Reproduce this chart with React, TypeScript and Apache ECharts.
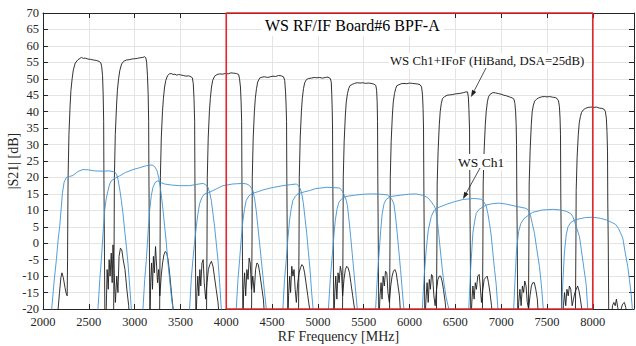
import React, { useEffect, useRef } from "react";
import * as echarts from "echarts";

// X axis / Y axis ranges and ticks
const xTicks = [2000, 2500, 3000, 3500, 4000, 4500, 5000, 5500, 6000, 6500, 7000, 7500, 8000];
const yTicks = [-20, -15, -10, -5, 0, 5, 10, 15, 20, 25, 30, 35, 40, 45, 50, 55, 60, 65, 70];
const xRange = [2000, 8450];
const yRange = [-20, 70];

// Red highlight box corners [MHz, dB]
const redBox = [[4000, -20], [4000, 70], [8000, 70], [8000, -20], [4000, -20]];

// WS Ch1 + IFoF (HiBand, DSA=25dB) — black traces, one per filter band
const hb1 = [[2150,-25],[2180,-15],[2195,-10.5],[2207,-9],[2222,-10.5],[2240,-13.5],[2255,-15.5],[2264,-16],[2268,-5],[2271,10],[2274,20],[2283,33],[2296,42],[2305,46.5],[2318,50],[2331,52.7],[2352,54.8],[2382,55.8],[2420,56.5],[2440,56.2],[2460,56.3],[2490,56],[2520,55.9],[2550,55.7],[2580,55.6],[2610,55.3],[2630,54.9],[2640,53.8],[2650,51],[2657,45],[2662,37],[2665,19.4],[2670,0],[2676,-25],[2690,-20],[2700,-8],[2712,-14],[2722,-5],[2732,-10],[2745,-3],[2755,-12],[2764,-0.5],[2775,-8],[2790,-18],[2805,-10],[2818,-15],[2830,-4],[2845,-1.5],[2860,-2],[2875,-5],[2895,-8],[2915,-14],[2935,-19],[2950,-25]];
const hb2 = [[2770,-25],[2776,0],[2779,20],[2789,33],[2803,42],[2812,46.5],[2825,50],[2838,52.5],[2858,54.5],[2880,55.3],[2910,55.7],[2940,55.8],[2970,56],[3000,56.1],[3030,56.2],[3060,56.4],[3090,56.5],[3110,56.7],[3122,56.4],[3131,55],[3140,51],[3148,45],[3153,37],[3156,20],[3161,0],[3167,-25],[3175,-12],[3185,-6],[3195,-14],[3205,-4],[3215,-9],[3228,-1],[3240,-7],[3250,-12],[3262,-8],[3275,-16],[3290,-10],[3305,-6],[3320,-3.5],[3335,-2.5],[3350,-3],[3365,-5],[3385,-10],[3405,-16],[3420,-20],[3435,-25]];
const hb3 = [[3272,-25],[3278,0],[3281,20],[3291,32],[3304,40],[3314,44],[3327,47.5],[3340,49.5],[3360,51],[3380,51.5],[3400,51.6],[3420,51.3],[3440,51.4],[3460,51.1],[3480,51.3],[3500,51.2],[3530,51],[3560,50.8],[3590,50.9],[3615,50.6],[3630,50.3],[3640,48.5],[3648,44],[3655,37],[3658,20],[3663,0],[3669,-25],[3680,-15],[3690,-10],[3700,-16],[3712,-8],[3722,-13],[3735,-6],[3748,-5],[3760,-12],[3775,-17],[3790,-12],[3805,-8],[3820,-6.5],[3838,-5.5],[3855,-7],[3870,-10],[3890,-14],[3910,-18],[3930,-25]];
const hb4 = [[3784,-25],[3790,0],[3793,20],[3803,32],[3816,40],[3826,44],[3839,47.5],[3852,49.5],[3873,50.8],[3900,51.3],[3930,51.5],[3960,51.4],[3990,51.6],[4020,51.5],[4050,51.8],[4080,51.7],[4110,51.6],[4135,51.3],[4145,50],[4155,47.5],[4162,43],[4168,37],[4171,20],[4176,0],[4182,-25],[4190,-14],[4200,-9],[4212,-16],[4225,-8],[4238,-11],[4250,-4.5],[4262,-6],[4275,-14],[4290,-10],[4305,-15],[4320,-8],[4335,-6],[4350,-6.5],[4365,-9],[4385,-13],[4405,-17],[4425,-25]];
const hb5 = [[4275,-25],[4281,0],[4284,20],[4294,32],[4307,40],[4317,44],[4330,47],[4343,49],[4364,50.2],[4390,50.5],[4420,50.6],[4450,50.4],[4480,50.6],[4510,50.8],[4540,50.7],[4570,51],[4600,50.9],[4625,50.6],[4638,49.5],[4647,46],[4653,42],[4658,37],[4661,20],[4666,0],[4672,-25],[4680,-16],[4692,-10],[4702,-15],[4715,-7],[4728,-10],[4740,-8],[4752,-14],[4765,-18],[4780,-12],[4795,-9],[4810,-7.5],[4825,-6.5],[4840,-7],[4855,-9],[4870,-12],[4890,-16],[4910,-20],[4925,-25]];
const hb6 = [[4788,-25],[4794,0],[4797,20],[4807,32],[4820,40],[4830,44],[4843,47],[4856,48.8],[4876,49.8],[4900,50.1],[4930,50.2],[4960,50.4],[4990,50.3],[5020,50.4],[5050,50.2],[5080,50.4],[5110,50.5],[5135,50.1],[5146,49],[5152,45],[5157,40],[5160,35],[5163,18],[5168,0],[5174,-25],[5185,-15],[5195,-10],[5207,-17],[5220,-9],[5232,-12],[5245,-7],[5258,-9],[5270,-16],[5285,-11],[5300,-8],[5315,-7],[5330,-7.5],[5345,-9],[5360,-12],[5380,-16],[5400,-20],[5420,-25]];
const hb7 = [[5268,-25],[5274,0],[5277,20],[5287,31],[5300,39],[5310,43],[5323,45.5],[5336,47],[5350,47.9],[5375,48.3],[5400,48.6],[5430,48.8],[5460,48.7],[5490,48.8],[5520,48.6],[5550,48.7],[5580,48.6],[5610,48.4],[5632,48],[5641,46.5],[5647,43],[5651,37],[5654,20],[5659,0],[5665,-25],[5678,-16],[5690,-12],[5700,-17],[5712,-10],[5725,-13],[5738,-8.5],[5752,-9],[5765,-15],[5780,-18],[5795,-13],[5810,-10],[5825,-8.5],[5840,-8],[5855,-9],[5870,-12],[5890,-16],[5910,-25]];
const hb8 = [[5781,-25],[5787,0],[5790,20],[5800,31],[5813,39],[5823,43],[5836,45.5],[5849,47],[5862,47.9],[5885,48.2],[5910,48.5],[5940,48.6],[5970,48.5],[6000,48.7],[6030,48.6],[6060,48.5],[6090,48.4],[6115,48.2],[6132,47.5],[6142,45],[6148,41],[6153,35],[6156,20],[6161,0],[6167,-25],[6180,-17],[6192,-12],[6204,-18],[6216,-11],[6228,-14],[6240,-9.5],[6252,-10],[6266,-16],[6280,-19],[6295,-14],[6310,-11],[6325,-10],[6340,-10],[6355,-11.5],[6370,-14],[6390,-18],[6410,-25]];
const hb9 = [[6293,-25],[6299,0],[6302,18],[6312,28],[6325,36],[6335,40],[6347,42.5],[6360,44],[6380,44.5],[6410,45],[6440,45.1],[6470,45.2],[6500,45.4],[6530,45.5],[6560,45.6],[6590,45.8],[6615,46],[6633,46],[6642,44.5],[6648,41],[6655,35],[6658,18],[6663,0],[6669,-25],[6680,-18],[6692,-13],[6705,-17],[6718,-12],[6730,-14],[6745,-10],[6760,-9.5],[6772,-13],[6785,-18],[6800,-14],[6815,-11],[6830,-10.5],[6848,-10],[6862,-12],[6878,-15],[6895,-19],[6910,-25]];
const hb10 = [[6795,-25],[6801,0],[6804,18],[6814,28],[6827,36],[6837,40],[6850,43],[6862,44.5],[6880,45.3],[6910,45.8],[6940,45.7],[6970,45.5],[7000,45.3],[7030,45],[7060,44.8],[7090,44.5],[7120,44.2],[7140,43.8],[7150,42.5],[7158,40],[7164,36],[7168,30],[7171,15],[7176,0],[7182,-25],[7192,-18],[7205,-14],[7218,-19],[7232,-13],[7245,-15],[7258,-11.5],[7272,-13],[7285,-18],[7300,-20],[7315,-16],[7330,-13],[7345,-12],[7362,-12],[7378,-14],[7395,-17],[7412,-25]];
const hb11 = [[7297,-25],[7303,0],[7306,18],[7316,28],[7329,36],[7339,40],[7352,42],[7366,43.2],[7386,43.8],[7410,44.2],[7440,44.5],[7470,44.6],[7500,44.5],[7530,44.6],[7560,44.4],[7590,44.3],[7610,44],[7626,43.3],[7636,41.5],[7643,38],[7648,33],[7651,15],[7656,0],[7662,-25],[7680,-19],[7692,-15],[7705,-19],[7718,-14],[7732,-16],[7745,-13],[7760,-14],[7775,-19],[7790,-17],[7805,-15],[7820,-14],[7835,-13],[7850,-14.5],[7865,-17],[7880,-20],[7895,-25]];
const hb12 = [[7810,-25],[7816,0],[7819,16],[7829,26],[7842,33],[7852,36.5],[7865,38.5],[7878,39.8],[7895,40.5],[7920,41],[7950,41.3],[7980,41.4],[8010,41.3],[8040,41.4],[8070,41.1],[8100,41],[8125,40.7],[8138,40],[8148,38],[8155,34],[8161,28],[8164,12],[8169,0],[8175,-25],[8200,-25],[8215,-19],[8230,-18],[8245,-19],[8258,-17],[8272,-19.5],[8290,-22],[8310,-20],[8325,-18.5],[8345,-18],[8360,-19.5],[8380,-25]];

// WS Ch1 — blue traces, one per filter band
const ch1 = [[2080,-25],[2095,-20],[2120,-12],[2146,-5],[2165,1],[2182,5],[2200,11],[2211,15],[2230,18.5],[2255,20],[2290,20.3],[2327,20.6],[2380,21.8],[2436,22.4],[2500,22.3],[2560,22],[2655,21.9],[2720,22],[2782,21.7],[2805,20.8],[2818,19.5],[2837,16.5],[2855,13],[2873,9],[2891,4],[2910,-1],[2927,-6],[2946,-13],[2964,-20],[2975,-25]];
const ch2 = [[2585,-25],[2600,-20],[2620,-11],[2637,-5],[2655,3],[2673,10],[2690,13.5],[2709,16],[2728,18],[2746,19],[2790,19.8],[2837,20.5],[2900,21.5],[2982,22.4],[3060,23],[3130,23.6],[3190,23.8],[3219,23.3],[3245,22],[3262,20],[3280,17],[3296,13.5],[3310,10],[3328,5],[3346,0],[3364,-6],[3382,-11],[3400,-16],[3418,-20],[3428,-25]];
const ch3 = [[3075,-25],[3091,-20],[3110,-11],[3128,-5],[3146,3],[3164,10],[3182,14.5],[3200,17],[3225,18.5],[3255,19],[3290,18.4],[3327,18],[3400,17.7],[3491,17.5],[3600,17.5],[3680,17.9],[3745,18.2],[3775,17.8],[3800,17],[3818,15.5],[3837,13],[3855,9],[3873,5],[3891,0],[3909,-5],[3928,-12],[3946,-20],[3956,-25]];
const ch4 = [[3585,-25],[3600,-20],[3618,-11],[3636,-5],[3655,0.5],[3673,5],[3691,9],[3709,12],[3736,14],[3764,15],[3818,15.5],[3890,16.5],[3964,17.5],[4070,18],[4182,18.2],[4225,18],[4255,17.5],[4275,16.8],[4291,16],[4309,13.5],[4327,10],[4345,5],[4364,0],[4382,-5],[4400,-10],[4418,-15],[4437,-20],[4447,-25]];
const ch5 = [[4095,-25],[4109,-20],[4128,-11],[4146,-5],[4164,1.5],[4182,7],[4200,10.5],[4218,13],[4250,14.5],[4291,15.2],[4350,15.7],[4400,16.2],[4500,16.9],[4618,17.5],[4700,17.8],[4764,18],[4790,17.5],[4808,16.5],[4825,15],[4842,12],[4860,7.5],[4878,3],[4896,-2.5],[4914,-8],[4932,-15],[4948,-20],[4958,-25]];
const ch6 = [[4603,-25],[4618,-20],[4636,-11],[4655,-5],[4673,1.5],[4691,7],[4709,10.5],[4727,13],[4755,14.3],[4782,15],[4850,15.6],[4909,16],[4975,16.6],[5100,17],[5237,16.8],[5269,15.8],[5290,14.5],[5310,13],[5322,11.5],[5340,7],[5358,2],[5376,-3.5],[5394,-9],[5412,-14.5],[5430,-20],[5440,-25]];
const ch7 = [[5100,-25],[5115,-20],[5135,-11],[5153,-5],[5172,1.5],[5190,7],[5210,10.5],[5230,12.5],[5265,13.6],[5303,14.2],[5400,14.6],[5500,14.9],[5593,15],[5680,14.9],[5757,14.7],[5790,14],[5810,13.2],[5829,12],[5848,8],[5866,3],[5884,-2.5],[5902,-8],[5920,-14],[5938,-20],[5948,-25]];
const ch8 = [[5615,-25],[5630,-20],[5650,-10],[5668,-3],[5686,4],[5702,9],[5722,12],[5745,13.3],[5793,14.2],[5900,14.6],[5990,14.9],[6066,15],[6140,14.6],[6190,14],[6211,13.5],[6240,12.5],[6265,11.5],[6284,10.5],[6300,7.5],[6318,3],[6336,-2],[6356,-7.5],[6375,-12],[6400,-16.5],[6429,-20],[6440,-25]];
const ch9 = [[6125,-25],[6140,-20],[6160,-10],[6182,-2],[6205,4],[6237,8.1],[6265,9.8],[6291,10.6],[6328,11],[6400,11.8],[6500,12.7],[6584,13.3],[6700,13.6],[6782,13.4],[6811,12.6],[6837,11.3],[6855,9],[6873,6],[6891,2.5],[6910,-3],[6928,-8],[6946,-12.5],[6965,-20],[6975,-25]];
const ch10 = [[6635,-25],[6647,-20],[6665,-9],[6691,3],[6710,6.5],[6728,9.1],[6760,10.3],[6800,11],[6837,11.6],[6900,12],[6974,12.2],[7055,11.9],[7150,11.3],[7273,10.6],[7300,10],[7320,8.5],[7340,6],[7364,3],[7390,-2],[7418,-7.1],[7440,-13],[7460,-20],[7470,-25]];
const ch11 = [[7125,-25],[7137,-20],[7150,-12],[7168,-2],[7190,3.5],[7215,6],[7250,7.5],[7302,8.6],[7345,9.4],[7448,10.1],[7563,10.3],[7650,10.1],[7710,9.7],[7760,9],[7782,8.1],[7800,6.8],[7820,5],[7855,2],[7880,-3],[7905,-8],[7928,-12.5],[7945,-20],[7955,-25]];
const ch12 = [[7645,-25],[7660,-20],[7673,-12.2],[7690,-3],[7710,2.5],[7730,5],[7760,6.3],[7800,7],[7850,7.4],[7920,7.8],[8000,7.9],[8080,7.6],[8146,7.1],[8210,6.3],[8250,5.7],[8280,4.5],[8305,3],[8328,1.5],[8355,-3],[8382,-7.1],[8400,-11],[8418,-15.2],[8432,-20],[8442,-25]];

const hiBandTraces = [hb1, hb2, hb3, hb4, hb5, hb6, hb7, hb8, hb9, hb10, hb11, hb12];
const wsCh1Traces = [ch1, ch2, ch3, ch4, ch5, ch6, ch7, ch8, ch9, ch10, ch11, ch12];

const titleText = "WS RF/IF Board#6 BPF-A";
const label1 = "WS Ch1+IFoF (HiBand, DSA=25dB)";
const label2 = "WS Ch1";

const SERIF = "'Liberation Serif', 'Times New Roman', serif";
const AXIS_COLOR = "#262626";

export default function App() {
  const ref = useRef<HTMLDivElement>(null);
  useEffect(() => {
    if (!ref.current) return;
    const chart = echarts.init(ref.current, undefined, { renderer: "svg" });
    const series: any[] = [];
    hiBandTraces.forEach((d, i) => {
      series.push({
        type: "line",
        name: "hb" + (i + 1),
        data: d,
        showSymbol: false,
        symbol: "none",
        lineStyle: { color: "#1c1c1c", width: 0.9 },
        z: 2,
      });
    });
    wsCh1Traces.forEach((d, i) => {
      series.push({
        type: "line",
        name: "ch" + (i + 1),
        data: d,
        showSymbol: false,
        symbol: "none",
        lineStyle: { color: "#3f93d4", width: 0.9 },
        z: 3,
      });
    });
    series.push({
      type: "line",
      name: "box",
      data: redBox,
      showSymbol: false,
      symbol: "none",
      clip: false,
      lineStyle: { color: "#e3262b", width: 1.6 },
      z: 5,
    });

    const arrow = (x1: number, y1: number, x2: number, y2: number) => {
      const dx = x2 - x1, dy = y2 - y1;
      const len = Math.sqrt(dx * dx + dy * dy);
      const ux = dx / len, uy = dy / len;
      const bx = x2 - ux * 7, by = y2 - uy * 7;
      const px = -uy * 2.4, py = ux * 2.4;
      return [
        { type: "line", shape: { x1, y1, x2: bx, y2: by }, style: { stroke: "#222", lineWidth: 0.8 }, z: 20 },
        { type: "polygon", shape: { points: [[x2, y2], [bx + px, by + py], [bx - px, by - py]] }, style: { fill: "#222" }, z: 20 },
      ];
    };

    chart.setOption({
      animation: false,
      backgroundColor: "#ffffff",
      title: {
        text: titleText,
        left: 262,
        top: 14,
        padding: [3, 4, 3, 3],
        backgroundColor: "#ffffff",
        textStyle: { fontFamily: SERIF, fontSize: 16, fontWeight: "normal", color: "#000" },
        z: 10,
      },
      grid: { left: 43, top: 13, width: 591, height: 296, containLabel: false, outerBoundsMode: "none" },
      xAxis: [
        {
          type: "value",
          position: "bottom",
          min: xRange[0],
          max: xRange[1],
          interval: 500,
          name: "RF Frequency [MHz]",
          nameLocation: "middle",
          nameGap: 20,
          nameMoveOverlap: false,
          nameTextStyle: { fontFamily: SERIF, fontSize: 14, color: AXIS_COLOR },
          axisLine: { show: true, onZero: false, lineStyle: { color: AXIS_COLOR, width: 1 } },
          axisTick: { show: true, inside: true, length: 5, lineStyle: { color: AXIS_COLOR } },
          axisLabel: {
            fontFamily: SERIF, fontSize: 12.5, color: AXIS_COLOR, margin: 6,
            showMaxLabel: false,
            formatter: (v: number) => (xTicks.indexOf(v) >= 0 ? String(v) : ""),
          },
          splitLine: { show: true, lineStyle: { color: "#e4e4e4", width: 1 } },
        },
        {
          type: "value",
          position: "top",
          min: xRange[0],
          max: xRange[1],
          interval: 500,
          axisLine: { show: true, onZero: false, lineStyle: { color: AXIS_COLOR, width: 1 } },
          axisTick: { show: true, inside: true, length: 5, lineStyle: { color: AXIS_COLOR } },
          axisLabel: { show: false },
          splitLine: { show: false },
        },
      ],
      yAxis: [
        {
          type: "value",
          position: "left",
          min: yRange[0],
          max: yRange[1],
          interval: 5,
          name: "|S21| [dB]",
          nameLocation: "middle",
          nameRotate: 90,
          nameGap: 23,
          nameMoveOverlap: false,
          nameTextStyle: { fontFamily: SERIF, fontSize: 14, color: AXIS_COLOR },
          axisLine: { show: true, onZero: false, lineStyle: { color: AXIS_COLOR, width: 1 } },
          axisTick: { show: true, inside: true, length: 5, lineStyle: { color: AXIS_COLOR } },
          axisLabel: {
            fontFamily: SERIF, fontSize: 12.5, color: AXIS_COLOR, margin: 4,
            formatter: (v: number) => (yTicks.indexOf(v) >= 0 ? String(v) : ""),
          },
          splitLine: { show: true, lineStyle: { color: "#e4e4e4", width: 1 } },
        },
        {
          type: "value",
          position: "right",
          min: yRange[0],
          max: yRange[1],
          interval: 5,
          axisLine: { show: true, onZero: false, lineStyle: { color: AXIS_COLOR, width: 1 } },
          axisTick: { show: true, inside: true, length: 5, lineStyle: { color: AXIS_COLOR } },
          axisLabel: { show: false },
          splitLine: { show: false },
        },
      ],
      graphic: [
        {
          type: "text",
          x: 389,
          y: 61,
          z: 20,
          style: {
            text: label1,
            font: "12.8px " + SERIF,
            fill: "#111",
            verticalAlign: "middle",
            backgroundColor: "#ffffff",
            padding: [1, 1, 1, 1],
          },
        },
        ...arrow(486, 68, 471, 97),
        {
          type: "text",
          x: 457,
          y: 162,
          z: 20,
          style: {
            text: label2,
            font: "13.5px " + SERIF,
            fill: "#111",
            verticalAlign: "middle",
            backgroundColor: "#ffffff",
            padding: [1, 1, 1, 1],
          },
        },
        ...arrow(480, 168, 463, 199),
      ],
      series,
    });
    return () => chart.dispose();
  }, []);
  return (
    <div
      ref={ref}
      style={{ position: "absolute", left: 0, top: 0, width: 636, height: 346 }}
    />
  );
}
